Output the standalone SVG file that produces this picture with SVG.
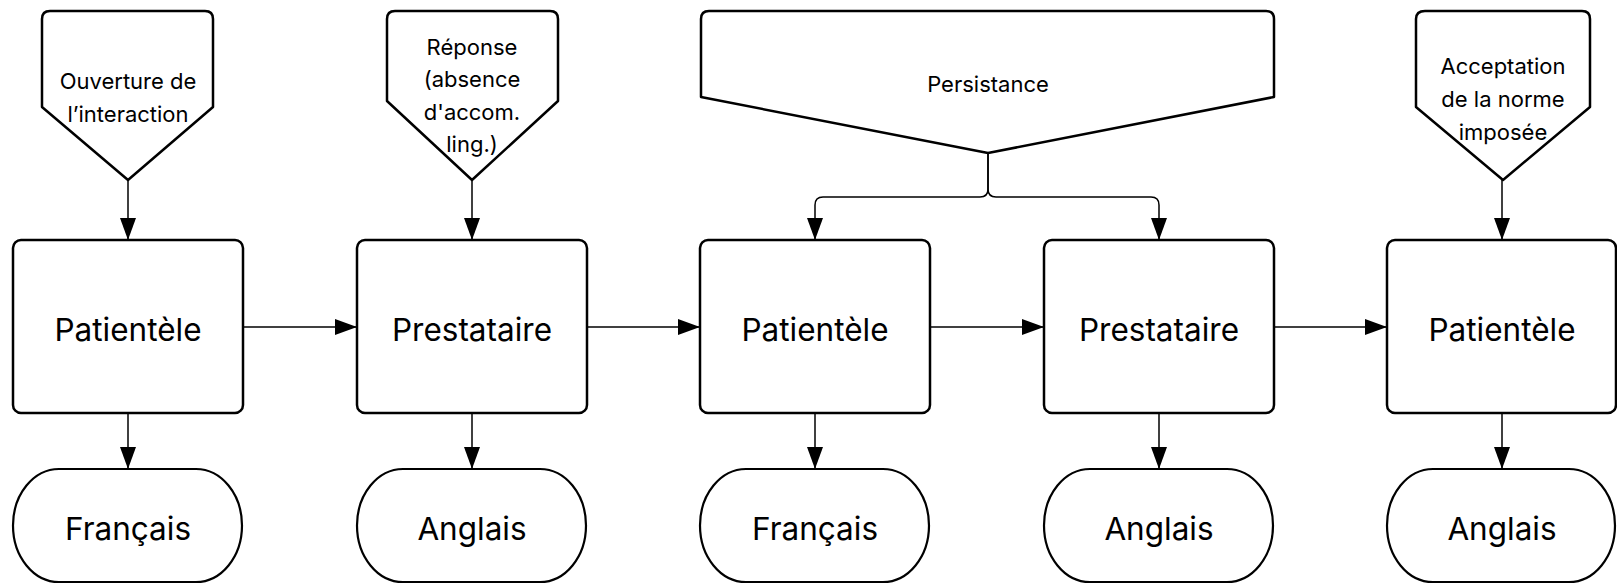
<svg xmlns="http://www.w3.org/2000/svg" width="1617" height="584" viewBox="0 0 1617 584">
  <defs>
    <marker id="arr" markerUnits="userSpaceOnUse" markerWidth="23" markerHeight="16" refX="22" refY="8" orient="auto">
      <path d="M0,0 L22,8 L0,16 Z" fill="#000"/>
    </marker>
    <style>
      .box { fill: #fff; stroke: #000; stroke-width: 2.5; }
      .term { fill: #fff; stroke: #000; stroke-width: 2.2; }
      .off { fill: #fff; stroke: #000; stroke-width: 2.5; stroke-linejoin: round; }
      .conn { fill: none; stroke: #000; stroke-width: 1.5; }
      .big { font-family: Inter, "Noto Sans", sans-serif; font-size: 31.5px; font-weight: 400; fill: #000; text-anchor: middle; }
      .small { font-family: Inter, "Noto Sans", sans-serif; font-size: 22px; font-weight: 400; fill: #000; text-anchor: middle; }
    </style>
  </defs>

  <g id="connectors">
    <path class="conn" d="M128,180 V240" marker-end="url(#arr)"/>
    <path class="conn" d="M472,180 V240" marker-end="url(#arr)"/>
    <path class="conn" d="M1502,180 V240" marker-end="url(#arr)"/>
    <path class="conn" d="M988,153 V189 Q988,197 980,197 H823 Q815,197 815,205 V240" marker-end="url(#arr)"/>
    <path class="conn" d="M988,153 V189 Q988,197 996,197 H1151 Q1159,197 1159,205 V240" marker-end="url(#arr)"/>
    <path class="conn" d="M243,327 H357" marker-end="url(#arr)"/>
    <path class="conn" d="M587,327 H700" marker-end="url(#arr)"/>
    <path class="conn" d="M930,327 H1044" marker-end="url(#arr)"/>
    <path class="conn" d="M1274,327 H1387" marker-end="url(#arr)"/>
    <path class="conn" d="M128,413 V469" marker-end="url(#arr)"/>
    <path class="conn" d="M472,413 V469" marker-end="url(#arr)"/>
    <path class="conn" d="M815,413 V469" marker-end="url(#arr)"/>
    <path class="conn" d="M1159,413 V469" marker-end="url(#arr)"/>
    <path class="conn" d="M1502,413 V469" marker-end="url(#arr)"/>
  </g>

  <g id="off1">
    <path class="off" d="M50,11 H205 Q213,11 213,19 V107 L128,180 L42,107 V19 Q42,11 50,11 Z"/>
    <text class="small" x="128" y="89">Ouverture de</text>
    <text class="small" x="128" y="122">l’interaction</text>
  </g>
  <g id="off2">
    <path class="off" d="M395,11 H550 Q558,11 558,19 V101 L472,180 L387,101 V19 Q387,11 395,11 Z"/>
    <text class="small" x="472" y="55">Réponse</text>
    <text class="small" x="472" y="87">(absence</text>
    <text class="small" x="472" y="120">d'accom.</text>
    <text class="small" x="472" y="152">ling.)</text>
  </g>
  <g id="off3">
    <path class="off" d="M709,11 H1266 Q1274,11 1274,19 V97 L988,153 L701,97 V19 Q701,11 709,11 Z"/>
    <text class="small" x="988" y="92">Persistance</text>
  </g>
  <g id="off5">
    <path class="off" d="M1425,11 H1582 Q1590,11 1590,19 V107 L1503,180 L1416,107 V19 Q1416,11 1425,11 Z"/>
    <text class="small" x="1503" y="74">Acceptation</text>
    <text class="small" x="1503" y="107">de la norme</text>
    <text class="small" x="1503" y="140">imposée</text>
  </g>

  <g id="box1"><rect class="box" x="13" y="240" width="230" height="173" rx="8"/><text class="big" x="128" y="341">Patientèle</text></g>
  <g id="box2"><rect class="box" x="357" y="240" width="230" height="173" rx="8"/><text class="big" x="472" y="341">Prestataire</text></g>
  <g id="box3"><rect class="box" x="700" y="240" width="230" height="173" rx="8"/><text class="big" x="815" y="341">Patientèle</text></g>
  <g id="box4"><rect class="box" x="1044" y="240" width="230" height="173" rx="8"/><text class="big" x="1159" y="341">Prestataire</text></g>
  <g id="box5"><rect class="box" x="1387" y="240" width="229" height="173" rx="8"/><text class="big" x="1502" y="341">Patientèle</text></g>

  <g id="term1"><rect class="term" x="13" y="469" width="229" height="113" rx="46" ry="56.5"/><text class="big" x="128" y="540">Français</text></g>
  <g id="term2"><rect class="term" x="357" y="469" width="229" height="113" rx="46" ry="56.5"/><text class="big" x="472" y="540">Anglais</text></g>
  <g id="term3"><rect class="term" x="700" y="469" width="229" height="113" rx="46" ry="56.5"/><text class="big" x="815" y="540">Français</text></g>
  <g id="term4"><rect class="term" x="1044" y="469" width="229" height="113" rx="46" ry="56.5"/><text class="big" x="1159" y="540">Anglais</text></g>
  <g id="term5"><rect class="term" x="1387" y="469" width="228" height="113" rx="46" ry="56.5"/><text class="big" x="1502" y="540">Anglais</text></g>
</svg>
